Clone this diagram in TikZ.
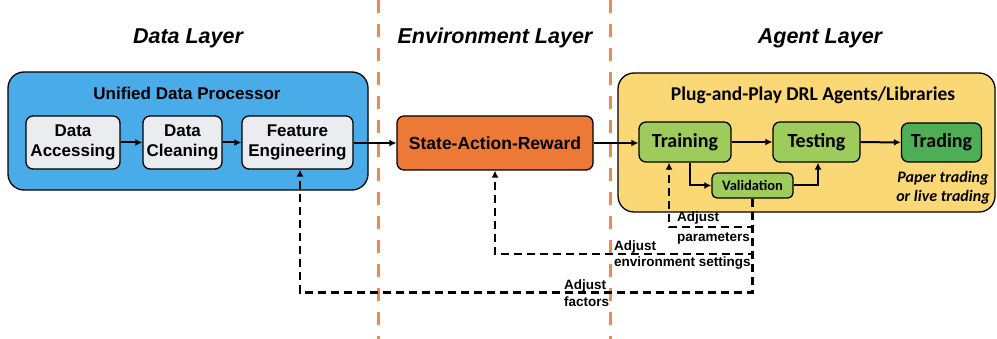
\documentclass[tikz,border=0pt]{standalone}
\usepackage{fontspec}
\setmainfont{Liberation Sans}
\newfontfamily\calib{Carlito}
\usetikzlibrary{arrows.meta}

\definecolor{procblue}{HTML}{49ACE9}
\definecolor{boxgray}{HTML}{EAECF0}
\definecolor{envorange}{HTML}{EC7A36}
\definecolor{seporange}{HTML}{EA8A4E}
\definecolor{agentyellow}{HTML}{FAD876}
\definecolor{lightgreen}{HTML}{9DCB5C}
\definecolor{darkgreen}{HTML}{4DAE55}

\tikzset{
  container/.style={draw=black, line width=1.3pt, rounded corners=16pt, inner sep=0pt},
  stepbox/.style={draw=black, line width=1.3pt, rounded corners=7pt, inner sep=0pt, align=center},
  layertitle/.style={font=\fontsize{21.5}{24}\selectfont\bfseries\itshape},
  flow/.style={line width=2pt, -{Latex[length=7pt,width=7pt]}},
  feedback/.style={line width=2.2pt, dash pattern=on 8pt off 5pt, -{Latex[length=7pt,width=7pt]}},
  fblabel/.style={font=\fontsize{13.5}{16}\selectfont\bfseries, align=left, inner sep=0pt, anchor=west},
  separator/.style={draw=seporange, line width=3pt, dash pattern=on 13pt off 11pt}
}

\begin{document}
\begin{tikzpicture}[x=1pt, y=-1pt]
\useasboundingbox (0,0) rectangle (997,339);

% layer separators
\coordinate (s1top) at (378,0);
\coordinate (s1bot) at (378,339);
\coordinate (s2top) at (610,0);
\coordinate (s2bot) at (610,339);
\draw[separator] (s1top) -- (s1bot);
\draw[separator] (s2top) -- (s2bot);

% layer titles
\node[layertitle] (tdata) at (188,38) {Data Layer};
\node[layertitle] (tenv) at (495,38) {Environment Layer};
\node[layertitle] (tagent) at (820,38) {Agent Layer};

% data layer
\node[container, fill=procblue, minimum width=360pt, minimum height=118pt] (proc) at (188,131) {};
\node[font=\fontsize{17}{20}\selectfont\bfseries] (proctitle) at (187,93) {Unified Data Processor};
\node[stepbox, fill=boxgray, minimum width=94pt, minimum height=53pt,
      font=\fontsize{17}{20}\selectfont\bfseries] (acc) at (73,142.5) {Data\\Accessing};
\node[stepbox, fill=boxgray, minimum width=79pt, minimum height=53pt,
      font=\fontsize{17}{20}\selectfont\bfseries] (cln) at (182.5,142.5) {Data\\Cleaning};
\node[stepbox, fill=boxgray, minimum width=111pt, minimum height=53pt,
      font=\fontsize{17}{20}\selectfont\bfseries] (fe) at (297.5,142.5) {Feature\\Engineering};

% environment layer
\node[stepbox, fill=envorange, minimum width=196pt, minimum height=54pt,
      font=\fontsize{17.5}{20}\selectfont\bfseries] (sar) at (495,143) {State-Action-Reward};

% agent layer
\node[container, fill=agentyellow, minimum width=377pt, minimum height=139pt] (agents) at (806.5,142.5) {};
\node[font=\fontsize{19.5}{22}\selectfont\calib\bfseries] (agtitle) at (813,95) {Plug-and-Play DRL Agents/Libraries};
\node[stepbox, fill=lightgreen, minimum width=92pt, minimum height=40pt,
      font=\fontsize{20}{22}\selectfont\calib\bfseries] (train) at (685,142) {Training};
\node[stepbox, fill=lightgreen, minimum width=87pt, minimum height=40pt,
      font=\fontsize{20}{22}\selectfont\calib\bfseries] (test) at (816.5,142) {Testing};
\node[stepbox, fill=darkgreen, minimum width=80pt, minimum height=39pt,
      font=\fontsize{20}{22}\selectfont\calib\bfseries] (trade) at (941.5,142.5) {Trading};
\node[stepbox, fill=lightgreen, rounded corners=5pt, minimum width=81pt, minimum height=25pt,
      font=\fontsize{14.5}{16}\selectfont\calib\bfseries] (valid) at (752.5,185.5) {Validation};
\node[font=\fontsize{16}{19}\selectfont\calib\bfseries\itshape, align=center] (papernote) at (943,187.5)
  {Paper trading\\or live trading};

% forward flow
\draw[flow] (acc) -- (cln);
\draw[flow] (cln) -- (fe);
\draw[flow] (fe.east |- sar.west) -- (sar.west);
\draw[flow] (sar.east) -- (sar.east -| train.west);
\draw[flow] (train) -- (test);
\draw[flow] (test) -- (trade);
\draw[flow] ([xshift=5pt]train.south) |- (valid.west);
\draw[flow] (valid.east) -| ([xshift=1.5pt]test.south);

% feedback loops
\coordinate (k1) at (752.5,227);
\coordinate (k2) at (752.5,254);
\coordinate (k3) at (752.5,292.5);
\draw[feedback] (valid.south) -- (k1) -| ([xshift=-16pt]train.south);
\draw[feedback] (valid.south) -- (k2) -| (sar.south);
\draw[feedback] (valid.south) -- (k3) -| ([xshift=2.5pt]fe.south);

\node[fblabel, font=\fontsize{13.5}{20}\selectfont\bfseries] (lpar) at (677,228.5) {Adjust\\parameters};
\node[fblabel] (lenv) at (614,255) {Adjust\\environment settings};
\node[fblabel, font=\fontsize{13.5}{17}\selectfont\bfseries] (lfac) at (564,293.5) {Adjust\\factors};
\end{tikzpicture}
\end{document}
